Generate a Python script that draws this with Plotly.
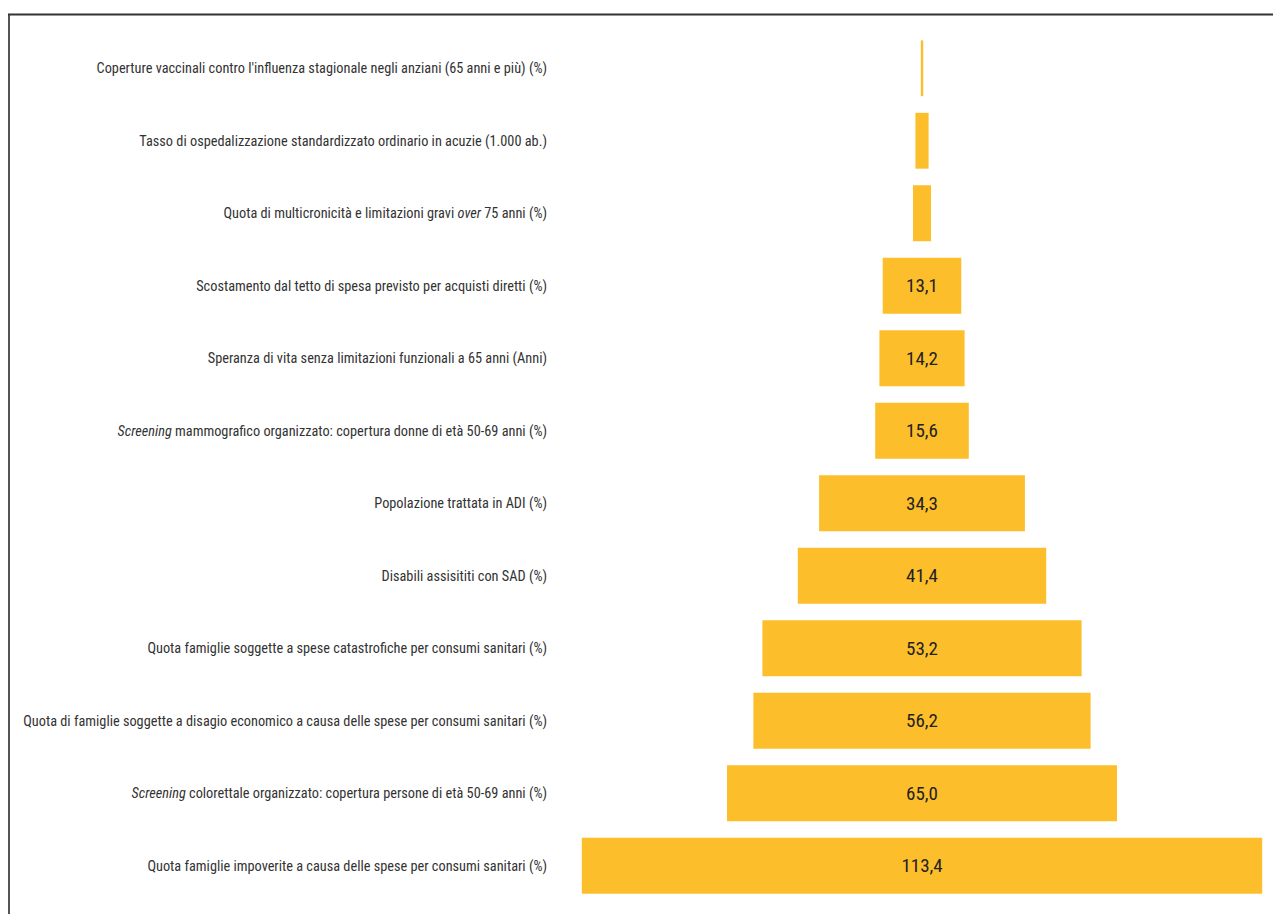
import plotly.graph_objects as go

categories = [
    "Coperture vaccinali contro l'influenza stagionale negli anziani (65 anni e più) (%)",
    "Tasso di ospedalizzazione standardizzato ordinario in acuzie (1.000 ab.)",
    "Quota di multicronicità e limitazioni gravi <i>over</i> 75 anni (%)",
    "Scostamento dal tetto di spesa previsto per acquisti diretti (%)",
    "Speranza di vita senza limitazioni funzionali a 65 anni (Anni)",
    "<i>Screening</i> mammografico organizzato: copertura donne di età 50-69 anni (%)",
    "Popolazione trattata in ADI (%)",
    "Disabili assisititi con SAD (%)",
    "Quota famiglie soggette a spese catastrofiche per consumi sanitari (%)",
    "Quota di famiglie soggette a disagio economico a causa delle spese per consumi sanitari (%)",
    "<i>Screening</i> colorettale organizzato: copertura persone di età 50-69 anni (%)",
    "Quota famiglie impoverite a causa delle spese per consumi sanitari (%)",
]
values = [0.4, 2.2, 3.0, 13.1, 14.2, 15.6, 34.3, 41.4, 53.2, 56.2, 65.0, 113.4]
labels = ["", "", "", "13,1", "14,2", "15,6", "34,3", "41,4", "53,2", "56,2", "65,0", "113,4"]

# page has an 8px body margin; figure coordinates = page coordinates - 8
OFF = 8
W, H = 1281 - OFF, 914 - OFF
L, R, T, B = 560 - OFF, 1270 - OFF, 32 - OFF, 902 - OFF
center_px, px_per_unit = 922 - OFF, 6.0
x0 = (L - center_px) / px_per_unit
x1 = (R - center_px) / px_per_unit

FONT = "Liberation Sans Narrow, Arial Narrow, Roboto Condensed, sans-serif"

fig = go.Figure(go.Bar(
    y=categories,
    x=values,
    base=[-v / 2 for v in values],
    orientation="h",
    width=0.77,
    marker=dict(color="#FDBE2B", line=dict(width=0)),
    text=labels,
    textposition="inside",
    insidetextanchor="middle",
    textfont=dict(family=FONT, size=19, color="#222222"),
    hoverinfo="y+x",
))

def px_to_paper_x(px):
    return (px - L) / (R - L)

def px_to_paper_y(py):
    return (B - py) / (B - T)

fig.update_layout(
    width=W, height=H,
    margin=dict(l=L, r=W - R, t=T, b=H - B, pad=0),
    paper_bgcolor="white", plot_bgcolor="white",
    showlegend=False,
    uniformtext=dict(mode="show", minsize=10),
    xaxis=dict(range=[x0, x1], visible=False, fixedrange=True),
    yaxis=dict(
        autorange="reversed", showgrid=False, zeroline=False, showline=False,
        ticks="", ticklabelstandoff=12,
        tickfont=dict(family=FONT, size=14.3, color="#333333"),
    ),
    shapes=[
        dict(type="line", xref="paper", yref="paper",
             x0=px_to_paper_x(1), x1=px_to_paper_x(1),
             y0=px_to_paper_y(H + 5), y1=px_to_paper_y(6.5),
             line=dict(color="#555555", width=2)),
        dict(type="line", xref="paper", yref="paper",
             x0=px_to_paper_x(0), x1=px_to_paper_x(W + 5),
             y0=px_to_paper_y(6.5), y1=px_to_paper_y(6.5),
             line=dict(color="#333333", width=2)),
    ],
)

fig.write_html("out.html")
